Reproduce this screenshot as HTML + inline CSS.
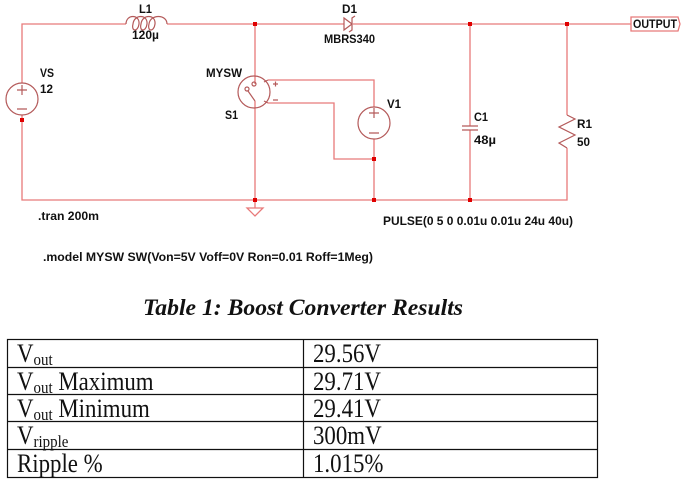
<!DOCTYPE html>
<html><head><meta charset="utf-8"><style>
html,body{margin:0;padding:0;background:#fff;}
svg{display:block;}
.w{stroke:#e87a7a;stroke-width:1.3;fill:none;}
.c{stroke:#b45a5a;stroke-width:1.2;fill:none;}
.j{fill:#e00000;}
.l{font-family:"Liberation Sans","DejaVu Sans",sans-serif;font-weight:bold;font-size:11.5px;fill:#111;}
.t{font-family:"Liberation Serif",serif;font-size:26px;fill:#111;}
</style></head><body>
<svg width="682" height="484" viewBox="0 0 682 484" xmlns="http://www.w3.org/2000/svg">
<!-- wires -->
<polyline class="w" points="126,24 22,24 22,83"/>
<line class="w" x1="167" y1="24" x2="344" y2="24"/>
<line class="w" x1="353" y1="24" x2="631" y2="24"/>
<polyline class="w" points="22,115 22,200 567,200 567,148"/>
<line class="w" x1="567" y1="24" x2="567" y2="115"/>
<line class="w" x1="255" y1="24" x2="255" y2="84"/>
<line class="w" x1="255" y1="101" x2="255" y2="200"/>
<polyline class="w" points="268,80 374,80 374,107"/>
<polyline class="w" points="268,103 334,103 334,159 374,159"/>
<line class="w" x1="374" y1="139" x2="374" y2="200"/>
<line class="w" x1="470" y1="24" x2="470" y2="126"/>
<line class="w" x1="470" y1="130" x2="470" y2="200"/>
<line class="w" x1="255" y1="200" x2="255" y2="208"/>
<!-- ground -->
<polygon class="w" points="247,208 263,208 255,216"/>
<!-- inductor -->
<path class="c" d="M126,24 C126,14 140,14 139,24 C138,32 131,32 133,24 C134,14 148,14 147,24 C146,32 139,32 141,24 C142,14 156,14 155,24 C154,32 147,32 149,24 C150,14 167,14 167,24"/>
<!-- VS -->
<circle class="c" cx="22" cy="99" r="16"/>
<path class="c" d="M17,90 h10 M22,85 v10 M17,109 h10"/>
<!-- switch -->
<circle class="c" cx="254" cy="92" r="16"/>
<circle class="c" cx="254" cy="84" r="2"/>
<circle class="c" cx="247" cy="89" r="2"/>
<line class="c" x1="248" y1="91" x2="255" y2="101"/>
<path class="c" d="M268,80 L264,82 M268,103 L264,101"/>
<path class="c" d="M273,84 h5 M275.5,81.5 v5 M273,100 h5"/>
<!-- V1 -->
<circle class="c" cx="374" cy="123" r="16"/>
<path class="c" d="M369,113 h10 M374,108 v10 M369,133 h10"/>
<!-- diode -->
<polygon class="c" points="344,18 344,30 352,24"/>
<path class="c" d="M355,16 L352,18 L352,30 L349,32"/>
<!-- capacitor -->
<path class="c" d="M462,126 h16 M462,130 h16"/>
<!-- resistor -->
<polyline class="c" points="567,115 575,119 559,127 575,135 559,143 567,148"/>
<!-- output label -->
<path d="M631,17 L678,17 L680,24 L678,31 L631,31 Z" fill="#fff" stroke="#e87a7a" stroke-width="1.3"/>
<!-- junctions -->
<rect class="j" x="253" y="22" width="4" height="4"/>
<rect class="j" x="468" y="22" width="4" height="4"/>
<rect class="j" x="565" y="22" width="4" height="4"/>
<rect class="j" x="20" y="118" width="4" height="4"/>
<rect class="j" x="253" y="198" width="4" height="4"/>
<rect class="j" x="372" y="198" width="4" height="4"/>
<rect class="j" x="468" y="198" width="4" height="4"/>
<rect class="j" x="372" y="157" width="4" height="4"/>
<!-- labels -->
<text class="l" x="139" y="13" textLength="13" lengthAdjust="spacingAndGlyphs">L1</text>
<text class="l" x="132" y="39" textLength="27" lengthAdjust="spacingAndGlyphs">120µ</text>
<text class="l" x="40" y="77" textLength="14" lengthAdjust="spacingAndGlyphs">VS</text>
<text class="l" x="40" y="93" textLength="13" lengthAdjust="spacingAndGlyphs">12</text>
<text class="l" x="206" y="77" textLength="36" lengthAdjust="spacingAndGlyphs">MYSW</text>
<text class="l" x="225" y="119" textLength="13" lengthAdjust="spacingAndGlyphs">S1</text>
<text class="l" x="342" y="13" textLength="15" lengthAdjust="spacingAndGlyphs">D1</text>
<text class="l" x="324" y="43" textLength="51" lengthAdjust="spacingAndGlyphs">MBRS340</text>
<text class="l" x="387" y="108" textLength="14" lengthAdjust="spacingAndGlyphs">V1</text>
<text class="l" x="474" y="121" textLength="14" lengthAdjust="spacingAndGlyphs">C1</text>
<text class="l" x="474" y="144" textLength="22" lengthAdjust="spacingAndGlyphs">48µ</text>
<text class="l" x="577" y="128" textLength="15" lengthAdjust="spacingAndGlyphs">R1</text>
<text class="l" x="577" y="146" textLength="13" lengthAdjust="spacingAndGlyphs">50</text>
<text class="l" x="633" y="28" textLength="44" lengthAdjust="spacingAndGlyphs">OUTPUT</text>
<text class="l" x="38" y="220" textLength="61" lengthAdjust="spacingAndGlyphs">.tran 200m</text>
<text class="l" x="383" y="225" textLength="190" lengthAdjust="spacingAndGlyphs">PULSE(0 5 0 0.01u 0.01u 24u 40u)</text>
<text class="l" x="43" y="261" textLength="330" lengthAdjust="spacingAndGlyphs">.model MYSW SW(Von=5V Voff=0V Ron=0.01 Roff=1Meg)</text>
<!-- title -->
<text x="143" y="315" textLength="320" lengthAdjust="spacingAndGlyphs" style="font-family:'Liberation Serif',serif;font-weight:bold;font-style:italic;font-size:23px;fill:#111">Table 1: Boost Converter Results</text>
<!-- table -->
<g stroke="#111" stroke-width="1.2" fill="none">
<rect x="7.5" y="339.5" width="590" height="138"/>
<line x1="303.5" y1="339.5" x2="303.5" y2="477.5"/>
<line x1="7.5" y1="367.5" x2="597.5" y2="367.5"/>
<line x1="7.5" y1="394.5" x2="597.5" y2="394.5"/>
<line x1="7.5" y1="421.5" x2="597.5" y2="421.5"/>
<line x1="7.5" y1="449.5" x2="597.5" y2="449.5"/>
</g>
<g class="t">
<text transform="translate(17,362) scale(0.88,1)">V<tspan font-size="17" dy="3">out</tspan></text>
<text transform="translate(17,390) scale(0.88,1)">V<tspan font-size="17" dy="3">out</tspan><tspan dy="-3"> Maximum</tspan></text>
<text transform="translate(17,417) scale(0.88,1)">V<tspan font-size="17" dy="3">out</tspan><tspan dy="-3"> Minimum</tspan></text>
<text transform="translate(17,444) scale(0.88,1)">V<tspan font-size="17" dy="3">ripple</tspan></text>
<text transform="translate(17,472) scale(0.88,1)">Ripple %</text>
<text transform="translate(313,362) scale(0.88,1)">29.56V</text>
<text transform="translate(313,390) scale(0.88,1)">29.71V</text>
<text transform="translate(313,417) scale(0.88,1)">29.41V</text>
<text transform="translate(313,444) scale(0.88,1)">300mV</text>
<text transform="translate(313,472) scale(0.88,1)">1.015%</text>
</g>
</svg>
</body></html>
